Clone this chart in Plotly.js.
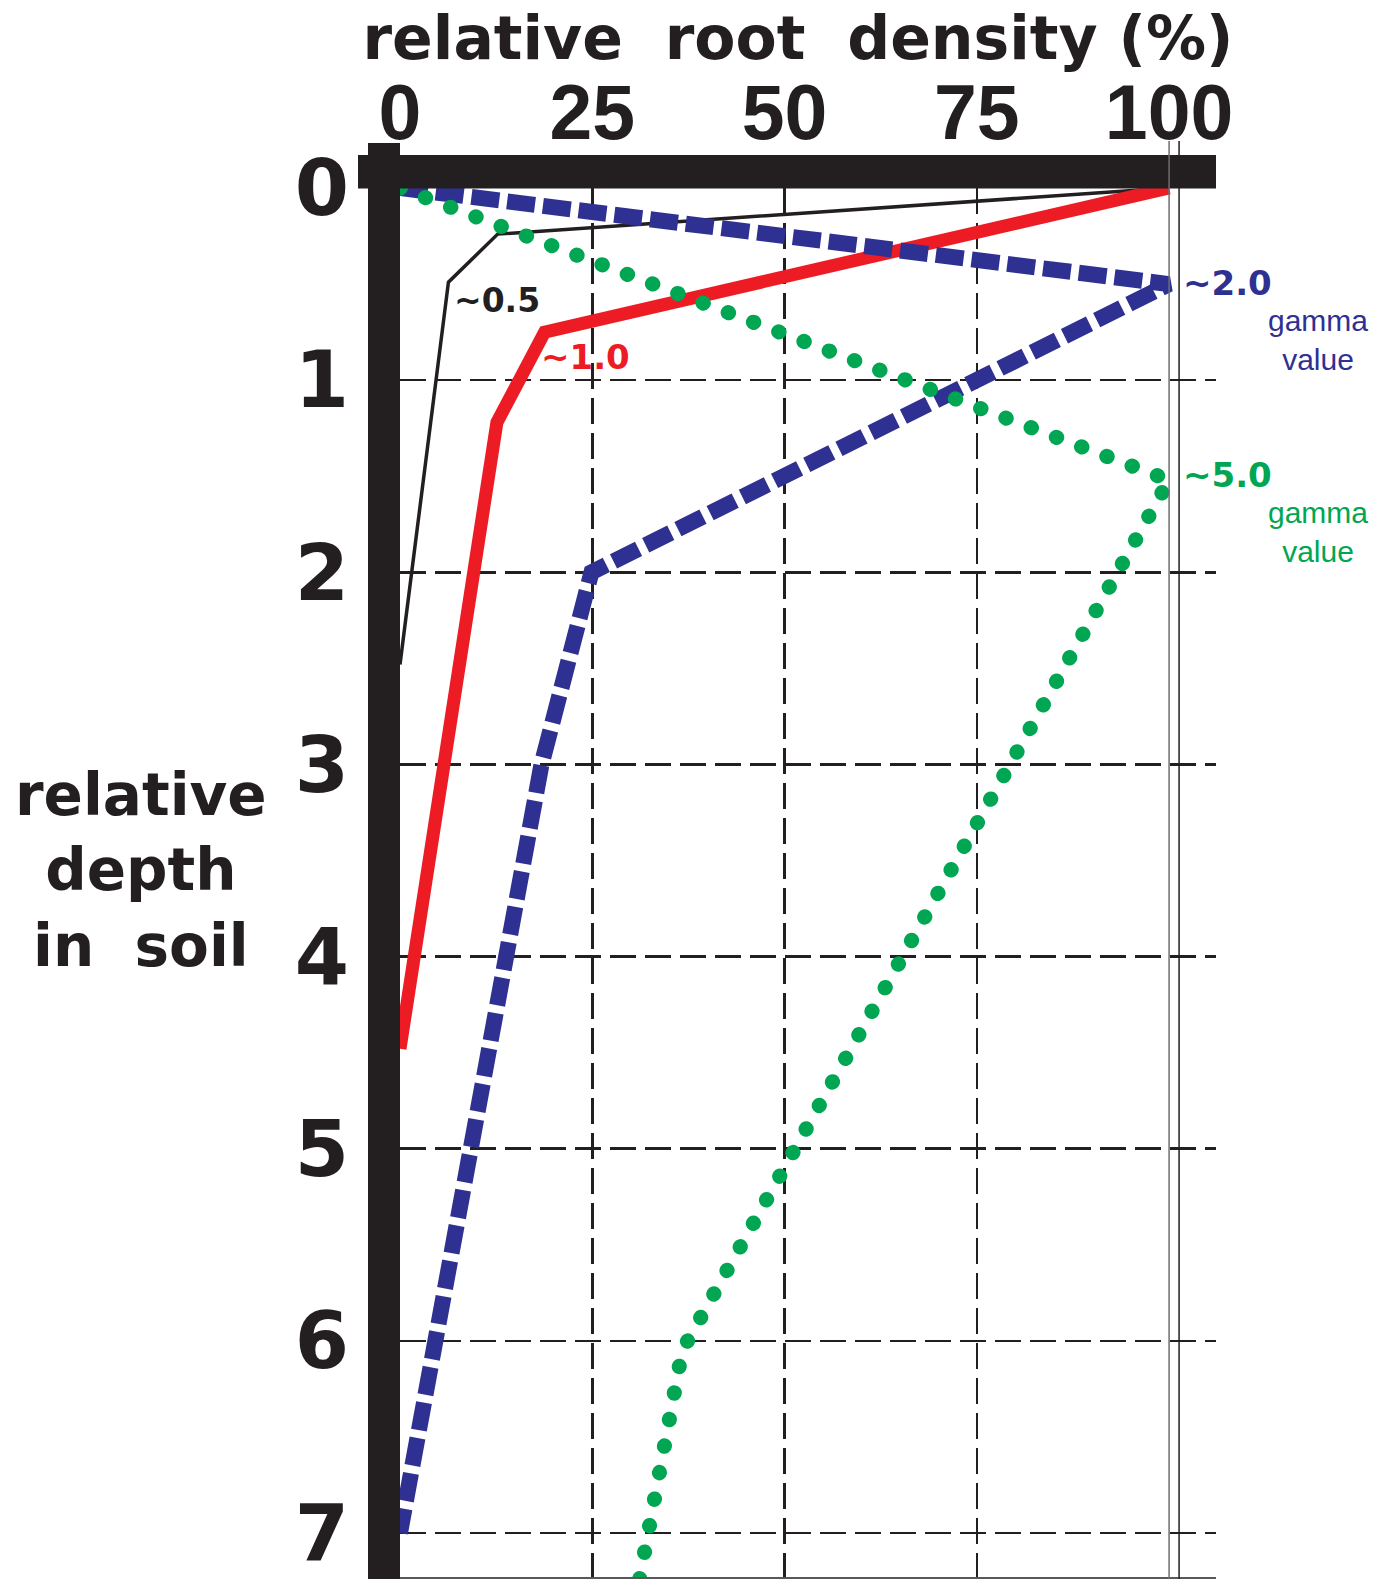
<!DOCTYPE html>
<html><head><meta charset="utf-8">
<script src="https://cdn.plot.ly/plotly-3.0.1.min.js"></script>
<style>html,body{margin:0;padding:0;background:#fff;}</style>
</head><body>
<div id="chart" style="width:1387px;height:1579px;"></div>
<script>
// ---- data (relative root density %, relative depth) ----
const gamma05Density = [100, 12.7, 6.3, 0];
const gamma05Depth   = [0, 0.24, 0.49, 2.48];
const gamma10Density = [100, 18.8, 12.6, 0];
const gamma10Depth   = [0, 0.75, 1.22, 4.48];
const gamma20Density = [0, 100, 24.9, 18.4, 0];
const gamma20Depth   = [0, 0.5, 2.0, 3.0, 7.0];
const gamma50Density = [0, 100, 36.7, 31.1];
const gamma50Depth   = [0, 1.52, 6.05, 7.25];
const xTickVals = [0, 25, 50, 75, 100];
const xTickText = ['0', '25', '50', '75', '100'];
const xGridVals = [25, 50, 75];
const yTickVals = [0, 1, 2, 3, 4, 5, 6, 7];
const yTickText = ['0', '1', '2', '3', '4', '5', '6', '7'];

// ---- styles ----
const INK = '#231f20', RED = '#ed1c24', BLUE = '#2e3192', GREEN = '#00a651';
const W = 1387, H = 1579, L = 400, R = 1216, T = 188, B = 1577;
const xp = px => (px - L) / (R - L);
const yp = py => (B - py) / (B - T);
const XMAX = 106.1, YMAX = 7.229;

const traces = [
  {x: gamma05Density, y: gamma05Depth, mode: 'lines', line: {color: INK, width: 3.5}, hoverinfo: 'skip'},
  {x: gamma10Density, y: gamma10Depth, mode: 'lines', line: {color: RED, width: 13}, hoverinfo: 'skip'},
  {x: gamma20Density, y: gamma20Depth, mode: 'lines', line: {color: BLUE, width: 16, dash: '28px,8px'}, hoverinfo: 'skip'},
  {x: gamma50Density, y: gamma50Depth, mode: 'lines', line: {color: GREEN, width: 15, dash: '0.5px,26.5px'}, hoverinfo: 'skip'},
  {x: [], y: [], xaxis: 'x2', yaxis: 'y', mode: 'lines', hoverinfo: 'skip'}
];

function ann(text, px, py, size, color, family, weight) {
  return {text: text, xref: 'paper', yref: 'paper', x: xp(px), y: yp(py),
    xanchor: 'center', yanchor: 'middle', showarrow: false, align: 'center',
    font: {family: family, size: size, color: color, weight: weight}};
}
const BOLD = 'DejaVu Sans';
const annotations = [
  ann('~0.5', 497, 300, 33, INK, BOLD, 'bold'),
  ann('~1.0', 585, 357, 34, RED, BOLD, 'bold'),
  ann('~2.0', 1227, 283, 34, BLUE, BOLD, 'bold'),
  ann('gamma<br>value', 1318, 340, 30, BLUE, 'Liberation Sans, Arial', 'normal'),
  ann('~5.0', 1227, 475, 34, GREEN, BOLD, 'bold'),
  ann('gamma<br>value', 1318, 532, 30, GREEN, 'Liberation Sans, Arial', 'normal'),
  ann('relative<br>depth<br>in&nbsp; soil', 141, 870, 58, INK, BOLD, 'bold')
];

const shapes = [
  {type: 'rect', xref: 'paper', yref: 'paper', x0: xp(358), x1: xp(1216), y0: yp(188.5), y1: yp(155), fillcolor: INK, line: {width: 0}, layer: 'above'},
  {type: 'rect', xref: 'paper', yref: 'paper', x0: xp(368), x1: xp(400), y0: yp(1580), y1: yp(143), fillcolor: INK, line: {width: 0}, layer: 'above'},
  {type: 'line', xref: 'x', yref: 'paper', x0: 100, x1: 100, y0: yp(1580), y1: yp(141), line: {color: '#6d6e71', width: 1.5}, layer: 'above'},
  {type: 'line', xref: 'x', yref: 'paper', x0: 101.3, x1: 101.3, y0: yp(1580), y1: yp(141), line: {color: INK, width: 1.5}, layer: 'above'}
];

const gridStyle = {gridcolor: INK, gridwidth: 2.5, griddash: '26px,9px'};

const layout = {
  width: W, height: H,
  margin: {l: L, r: W - R, t: T, b: H - B, pad: 0},
  paper_bgcolor: '#ffffff', plot_bgcolor: '#ffffff',
  showlegend: false,
  title: {text: 'relative&nbsp; root&nbsp; density (%)', x: 798 / W, xref: 'container', xanchor: 'center',
          y: 1 - 38 / H, yref: 'container', yanchor: 'middle',
          font: {family: BOLD, size: 60, weight: 'bold', color: INK}},
  xaxis: {range: [0, XMAX], side: 'top', tickmode: 'array', tickvals: xTickVals, ticktext: xTickText,
          tickfont: {family: 'Liberation Sans, Arial', size: 77, weight: 'bold', color: INK},
          showgrid: false, zeroline: false, showline: false, ticks: '', ticklabelstandoff: 33, fixedrange: true},
  xaxis2: Object.assign({range: [0, XMAX], overlaying: 'x', anchor: 'y', side: 'bottom', tickmode: 'array', tickvals: xGridVals,
          showticklabels: false, showgrid: true, zeroline: false, showline: true, linecolor: '#58595b', linewidth: 2,
          ticks: '', fixedrange: true}, gridStyle),
  yaxis: Object.assign({range: [YMAX, 0], tickmode: 'array', tickvals: yTickVals, ticktext: yTickText,
          tickfont: {family: BOLD, size: 78, weight: 'bold', color: INK},
          showgrid: true, zeroline: false, showline: false, ticks: '', ticklabelstandoff: 50, fixedrange: true}, gridStyle),
  shapes: shapes,
  annotations: annotations
};

Plotly.newPlot('chart', traces, layout, {staticPlot: true, displayModeBar: false}).then(function (gd) {
  gd.querySelectorAll('.scatterlayer path.js-line').forEach(function (p) {
    var da = p.style.strokeDasharray || '';
    if (da.indexOf('0.5') === 0) { p.style.strokeLinecap = 'round'; }
  });
});
</script>
</body></html>
